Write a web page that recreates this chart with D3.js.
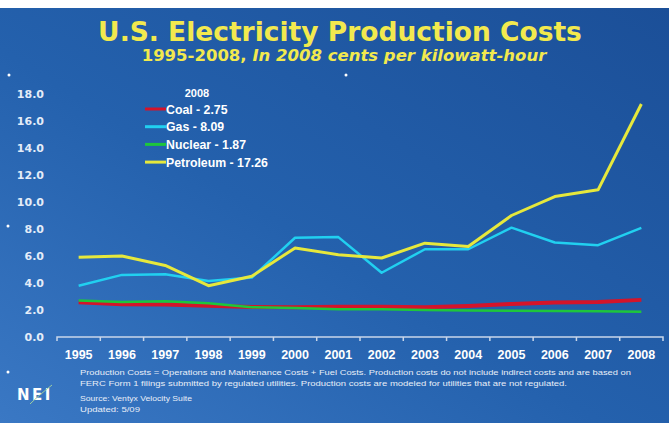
<!DOCTYPE html>
<html>
<head>
<meta charset="utf-8">
<script src="https://cdn.jsdelivr.net/npm/d3@7"></script>
<style>
  html, body { margin: 0; padding: 0; background: #fff; }
  svg { display: block; }
</style>
</head>
<body>
<div id="chart"></div>
<script>
// data, 2008 cents per kWh
var years = [1995, 1996, 1997, 1998, 1999, 2000, 2001, 2002, 2003, 2004, 2005, 2006, 2007, 2008];
var coal = [2.57, 2.42, 2.4, 2.32, 2.22, 2.2, 2.25, 2.25, 2.2, 2.3, 2.45, 2.55, 2.6, 2.75];
var gas = [3.8, 4.6, 4.65, 4.15, 4.4, 7.35, 7.4, 4.76, 6.5, 6.5, 8.1, 7.0, 6.8, 8.09];
var nuclear = [2.7, 2.6, 2.65, 2.5, 2.2, 2.15, 2.05, 2.05, 2.0, 1.97, 1.95, 1.92, 1.9, 1.87];
var petroleum = [5.9, 6.0, 5.3, 3.8, 4.5, 6.6, 6.1, 5.85, 6.95, 6.7, 9.0, 10.4, 10.9, 17.26];
var yTicks = [0, 2, 4, 6, 8, 10, 12, 14, 16, 18];
var seriesNames = ["Coal", "Gas", "Nuclear", "Petroleum"];
var seriesColors = ["#d4142a", "#21d0f0", "#1ec63c", "#e6e83c"];

var series = [
    { name: seriesNames[0], values: coal, color: seriesColors[0], w: 4 },
    { name: seriesNames[1], values: gas, color: seriesColors[1], w: 2.5 },
    { name: seriesNames[2], values: nuclear, color: seriesColors[2], w: 2.5 },
    { name: seriesNames[3], values: petroleum, color: seriesColors[3], w: 3 }
];

var width = 669, height = 423;

var svg = d3.select("#chart")
    .append("svg")
    .attr("width", width)
    .attr("height", height);

// background gradient
var defs = svg.append("defs");
var grad = defs.append("linearGradient")
    .attr("id", "bg")
    .attr("x1", "0").attr("y1", "1")
    .attr("x2", "1").attr("y2", "0");
grad.append("stop").attr("offset", "0").attr("stop-color", "#3a78c4");
grad.append("stop").attr("offset", "0.45").attr("stop-color", "#2461ad");
grad.append("stop").attr("offset", "1").attr("stop-color", "#1b4f98");

svg.append("rect")
    .attr("x", 0).attr("y", 8)
    .attr("width", width).attr("height", height - 8)
    .attr("fill", "url(#bg)");

// title
svg.append("text")
    .attr("x", 340).attr("y", 41)
    .attr("text-anchor", "middle")
    .attr("font-family", "Verdana, 'DejaVu Sans', sans-serif")
    .attr("font-weight", "bold")
    .attr("font-size", 26.5)
    .attr("fill", "#f2e94e")
    .text("U.S. Electricity Production Costs");

var sub = svg.append("text")
    .attr("x", 344).attr("y", 61)
    .attr("text-anchor", "middle")
    .attr("font-family", "Verdana, 'DejaVu Sans', sans-serif")
    .attr("font-weight", "bold")
    .attr("font-size", 16.5)
    .attr("fill", "#f2e94e");
sub.append("tspan").text("1995-2008, ");
sub.append("tspan").attr("font-style", "italic").text("In 2008 cents per kilowatt-hour");

// scales
var x = d3.scaleBand().domain(years).range([57, 663]);
var y = d3.scaleLinear().domain([0, 18]).range([337, 94]);

// y labels
svg.append("g")
    .selectAll("text")
    .data(yTicks)
    .enter().append("text")
    .attr("x", 44)
    .attr("y", function (d) { return y(d) + 4; })
    .attr("text-anchor", "end")
    .attr("font-family", "Verdana, 'DejaVu Sans', sans-serif")
    .attr("font-weight", "bold")
    .attr("font-size", 11)
    .attr("fill", "#e4ecf8")
    .text(function (d) { return d.toFixed(1); });

// x axis
var xAxis = svg.append("g")
    .attr("transform", "translate(0,337)")
    .call(d3.axisBottom(x).tickSize(0).tickPadding(13));
xAxis.select(".domain").attr("stroke", "#c9d6ea").attr("stroke-width", 1.5)
    .attr("d", "M57,4V0H663V4");
xAxis.selectAll("text")
    .attr("font-family", "Arial, 'Liberation Sans', sans-serif")
    .attr("font-weight", "bold")
    .attr("font-size", 12.5)
    .attr("fill", "#ffffff");
// small boundary ticks
xAxis.selectAll(".bt")
    .data(years.slice(1))
    .enter().append("line")
    .attr("class", "bt")
    .attr("x1", function (d) { return x(d); })
    .attr("x2", function (d) { return x(d); })
    .attr("y1", 0).attr("y2", 4)
    .attr("stroke", "#c9d6ea").attr("stroke-width", 1.5);

// lines
var line = d3.line()
    .x(function (d, i) { return x(years[i]) + x.bandwidth() / 2; })
    .y(function (d) { return y(d); });

svg.append("g")
    .selectAll("path")
    .data(series)
    .enter().append("path")
    .attr("d", function (d) { return line(d.values); })
    .attr("fill", "none")
    .attr("stroke", function (d) { return d.color; })
    .attr("stroke-width", function (d) { return d.w; })
    .attr("stroke-linejoin", "round");

// legend
var lg = svg.append("g");
lg.append("text")
    .attr("x", 197).attr("y", 97)
    .attr("text-anchor", "middle")
    .attr("font-family", "Arial, 'Liberation Sans', sans-serif")
    .attr("font-weight", "bold")
    .attr("font-size", 11)
    .attr("fill", "#ffffff")
    .text("2008");

var item = lg.selectAll(".item")
    .data(series)
    .enter().append("g")
    .attr("class", "item")
    .attr("transform", function (d, i) { return "translate(145," + (109 + i * 17.7) + ")"; });
item.append("line")
    .attr("x1", 0).attr("x2", 21)
    .attr("stroke", function (d) { return d.color; })
    .attr("stroke-width", 3);
item.append("text")
    .attr("x", 21).attr("y", 4.5)
    .attr("font-family", "Arial, 'Liberation Sans', sans-serif")
    .attr("font-weight", "bold")
    .attr("font-size", 12.3)
    .attr("fill", "#ffffff")
    .text(function (d) {
        var v = d.values[d.values.length - 1];
        return d.name + " - " + v.toFixed(2);
    });

// footnotes
var notes = [
    "Production Costs = Operations and Maintenance Costs + Fuel Costs. Production costs do not include indirect costs and are based on",
    "FERC Form 1 filings submitted by regulated utilities. Production costs are modeled for utilities that are not regulated.",
    "Source: Ventyx Velocity Suite",
    "Updated: 5/09"
];
var noteY = [375, 386, 401, 412];
var noteW = [551, 487, 112, 60];
svg.append("g")
    .selectAll("text")
    .data(notes)
    .enter().append("text")
    .attr("x", 80)
    .attr("y", function (d, i) { return noteY[i]; })
    .attr("textLength", function (d, i) { return noteW[i]; })
    .attr("lengthAdjust", "spacingAndGlyphs")
    .attr("font-family", "Arial, 'Liberation Sans', sans-serif")
    .attr("font-size", 8)
    .attr("fill", "#e8eef8")
    .text(function (d) { return d; });

// NEI logo
svg.append("text")
    .attr("x", 17).attr("y", 400)
    .attr("font-family", "Verdana, 'DejaVu Sans', sans-serif")
    .attr("font-weight", "bold")
    .attr("font-size", 15)
    .attr("letter-spacing", 2.5)
    .attr("fill", "#ffffff")
    .text("NEI");
svg.append("path")
    .attr("d", "M30,404 Q38,396 52,385")
    .attr("fill", "none")
    .attr("stroke", "#9fd0a0")
    .attr("stroke-width", 1);

// stray bullet dots
var dots = [[9, 75], [346, 75], [8, 226], [8, 372]];
svg.append("g")
    .selectAll("circle")
    .data(dots)
    .enter().append("circle")
    .attr("cx", function (d) { return d[0]; })
    .attr("cy", function (d) { return d[1]; })
    .attr("r", 1.5)
    .attr("fill", "#ffffff");
</script>
</body>
</html>
